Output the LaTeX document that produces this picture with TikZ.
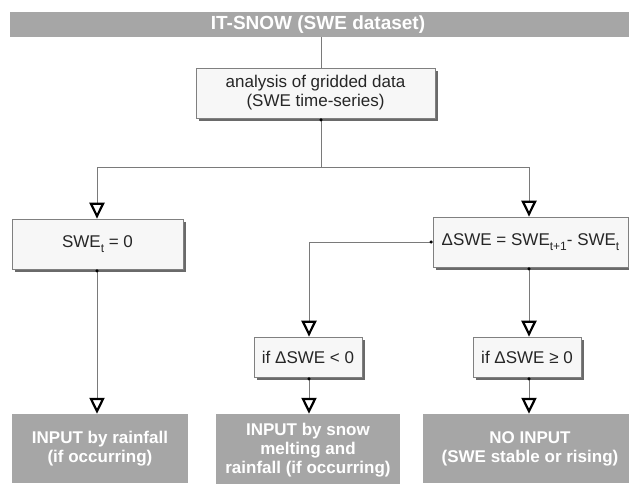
\documentclass[tikz,border=0pt]{standalone}
\usepackage{fontspec}
\setmainfont{Liberation Sans}
\usetikzlibrary{arrows.meta,shadows,calc}
\definecolor{bannergray}{HTML}{A6A6A6}
\definecolor{boxfill}{HTML}{F7F7F7}
\definecolor{boxline}{HTML}{808080}
\definecolor{shadowgray}{HTML}{6A6A6A}
\definecolor{linegray}{HTML}{7A7A7A}
\newcommand{\lowsub}[1]{\raisebox{-5.5pt}{\fontsize{12}{12}\selectfont #1}}
\begin{document}
\begin{tikzpicture}[x=1pt,y=-1pt,
  banner/.style={fill=bannergray, text=white, font=\fontsize{19}{22}\selectfont\bfseries, inner sep=0pt},
  procbox/.style={draw=boxline, fill=boxfill, line width=0.7pt, inner sep=0pt, align=center,
    font=\fontsize{17}{19}\selectfont, text=black!85,
    drop shadow={shadow xshift=3pt, shadow yshift=-3pt, fill=shadowgray, opacity=1}},
  outbox/.style={fill=bannergray, inner sep=0pt, text=white, align=center,
    font=\fontsize{17}{19}\selectfont\bfseries},
  conn/.style={draw=linegray, line width=0.8pt},
  arr/.style={conn, -{Triangle[open, length=16pt, width=15pt, line width=2.2pt, color=black]}},
  dotarr/.style={conn, {Circle[length=3pt, color=black]}-{Triangle[open, length=16pt, width=15pt, line width=2.2pt, color=black]}},
  dotline/.style={conn, {Circle[length=3pt, color=black]}-}
]
\useasboundingbox (0,0) rectangle (629,483);
\node[banner, minimum width=620pt, minimum height=25pt] (banner) at (320,24.5) {};
\node[text=white, font=\fontsize{19}{22}\selectfont\bfseries, inner sep=0pt] (bannertext) at (318,24.5) {IT-SNOW (SWE dataset)};
\node[procbox, minimum width=239pt, minimum height=50pt] (ana) at (315.5,93) {analysis of gridded data\\(SWE time-series)};
\node[procbox, minimum width=171pt, minimum height=50pt] (swe0) at (97.5,244) {SWE\lowsub{t} = 0};
\node[procbox, minimum width=195pt, minimum height=50pt] (delta) at (530.5,242) {ΔSWE = SWE\lowsub{t+1}- SWE\lowsub{t}};
\node[procbox, minimum width=108pt, minimum height=40pt] (if1) at (308,357) {if ΔSWE < 0};
\node[procbox, minimum width=108pt, minimum height=40pt] (if2) at (527,357) {if ΔSWE ≥ 0};
\node[outbox, minimum width=176pt, minimum height=69pt] (g1) at (100,448.5) {INPUT by rainfall\\(if occurring)};
\node[outbox, minimum width=184pt, minimum height=73pt] (g2) at (308,450.5) {INPUT by snow\\melting and\\rainfall (if occurring)};
\node[outbox, minimum width=214pt, minimum height=69pt] (g3) at (530,448.5) {NO INPUT\\(SWE stable or rising)};
\coordinate (c1) at (321,167);
\coordinate (jl) at (97,167);
\coordinate (jr) at (529,167);
\coordinate (jm) at (309,242);
\draw[conn] (banner.south -| c1) -- (ana.north -| c1);
\draw[dotline] (ana.south -| c1) -- (c1);
\draw[conn] (jl) -- (jr);
\draw[arr] (jl) -- (swe0.north -| jl);
\draw[arr] (jr) -- (delta.north -| jr);
\draw[dotarr] (swe0.south -| jl) -- (g1.north -| jl);
\draw[dotarr] (delta.west) -- (jm) -- (if1.north -| jm);
\draw[dotarr] (delta.south -| jr) -- (if2.north -| jr);
\draw[dotarr] (if1.south -| jm) -- (g2.north -| jm);
\draw[dotarr] (if2.south -| jr) -- (g3.north -| jr);
\end{tikzpicture}
\end{document}
